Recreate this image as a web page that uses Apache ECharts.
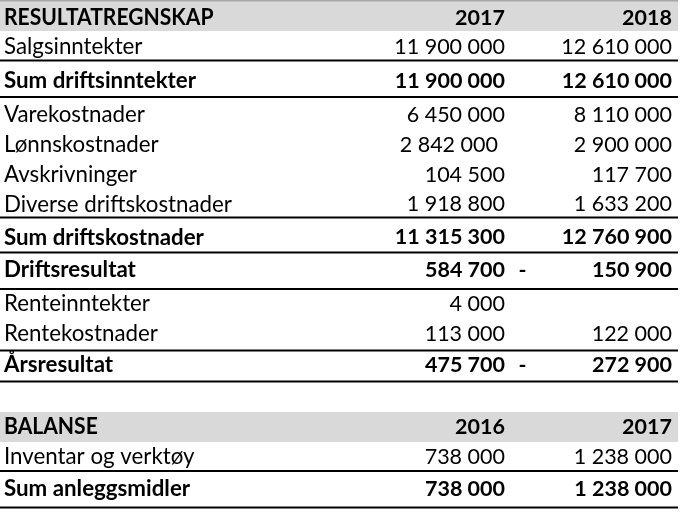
<!DOCTYPE html>
<html><head><meta charset="utf-8">
<script src="https://cdn.jsdelivr.net/npm/echarts@6/dist/echarts.min.js"></script>
<style>html,body{margin:0;padding:0;background:#fff}#c{width:687px;height:514px}</style>
</head><body><div id="c"></div>
<script>
// ---- data ----
const rowLabels = ['RESULTATREGNSKAP','Salgsinntekter','Sum driftsinntekter','Varekostnader','Lønnskostnader','Avskrivninger','Diverse driftskostnader','Sum driftskostnader','Driftsresultat','Renteinntekter','Rentekostnader','Årsresultat','','BALANSE','Inventar og verktøy','Sum anleggsmidler'];
const colAValues = ['2017',11900000,11900000,6450000,2842000,104500,1918800,11315300,584700,4000,113000,475700,null,'2016',738000,738000];
const colBValues = ['2018',12610000,12610000,8110000,2900000,117700,1633200,12760900,-150900,null,122000,-272900,null,'2017',1238000,1238000];
const rowTypes = ['header','normal','total','normal','normal','normal','normal','total','total','normal','normal','total','blank','header','normal','total'];

// ---- layout (positions / styles) ----
const rowCenterY = [18,47,81,115,145,175,204.5,237.5,270,304,334,365,397,427,457,489];
const ruleY = [null,60.5,97,null,null,null,217.5,252.5,289,null,350.5,381.5,null,null,471,507.5];
const bandExtent = {0:[1,31],13:[412,442]};
const cellNudgeA = [0,0,0,0,-7,0,0,0,0,0,0,0,0,0,0,0];
const labelX = 4, colARight = 505, dashX = 522.5, colBRight = 672, tableRight = 678;
const FS_LABEL = 22.3, FS_NUM = 21.5, HEAD_SCALE_X = 0.945, FAMILY = 'Lato';

function fmt(v){
  if (typeof v === 'string') return v;
  return Math.abs(v).toString().replace(/\B(?=(\d{3})+(?!\d))/g, ' ');
}

const chart = echarts.init(document.getElementById('c'), null, {renderer:'canvas'});
chart.setOption({
  animation: false,
  grid: {left:0, right:0, top:0, bottom:0},
  xAxis: {type:'value', min:0, max:687, show:false},
  yAxis: {type:'value', min:0, max:514, inverse:true, show:false},
  series: [{
    type: 'custom',
    clip: false,
    data: rowLabels.map((l, i) => [i]),
    encode: {x: 0, y: 0},
    renderItem: function(params, api){
      const i = api.value(0);
      const t = rowTypes[i];
      const children = [];
      const bold = (t === 'header' || t === 'total');
      const cy = api.coord([0, rowCenterY[i]])[1];
      const txt = (s, x, align, fs, sx) => ({
        type: 'text', x: x, y: cy, scaleX: sx || 1,
        style: {text: s, x: 0, y: 0, fill: '#000', align: align, verticalAlign: 'middle',
                fontFamily: FAMILY, fontSize: fs, fontWeight: bold ? 'bold' : 'normal'}
      });
      if (bandExtent[i]) {
        const p0 = api.coord([0, bandExtent[i][0]]);
        const p1 = api.coord([tableRight, bandExtent[i][1]]);
        children.push({type:'rect', shape:{x:p0[0], y:p0[1], width:p1[0]-p0[0], height:p1[1]-p0[1]}, style:{fill:'#d9d9d9'}});
        if (i === 0) {
          children.push({type:'rect', shape:{x:p0[0], y:0, width:p1[0]-p0[0], height:1.5}, style:{fill:'#a6a6a6'}});
        }
      }
      if (t !== 'blank') {
        children.push(txt(rowLabels[i], api.coord([labelX,0])[0], 'left', FS_LABEL, t === 'header' ? HEAD_SCALE_X : 1));
        const a = colAValues[i], b = colBValues[i];
        if (a !== null) children.push(txt(fmt(a), api.coord([colARight + cellNudgeA[i],0])[0], 'right', FS_NUM));
        if (b !== null) {
          children.push(txt(fmt(b), api.coord([colBRight,0])[0], 'right', FS_NUM));
          if (typeof b === 'number' && b < 0) children.push(txt('-', api.coord([dashX,0])[0], 'center', FS_NUM));
        }
      }
      if (ruleY[i] !== null) {
        const l0 = api.coord([0, ruleY[i]]), l1 = api.coord([tableRight, ruleY[i]]);
        children.push({type:'line', shape:{x1:l0[0], y1:l0[1], x2:l1[0], y2:l1[1]}, style:{stroke:'#000', lineWidth:2}});
      }
      return {type:'group', children: children};
    }
  }]
});
</script>
</body></html>
